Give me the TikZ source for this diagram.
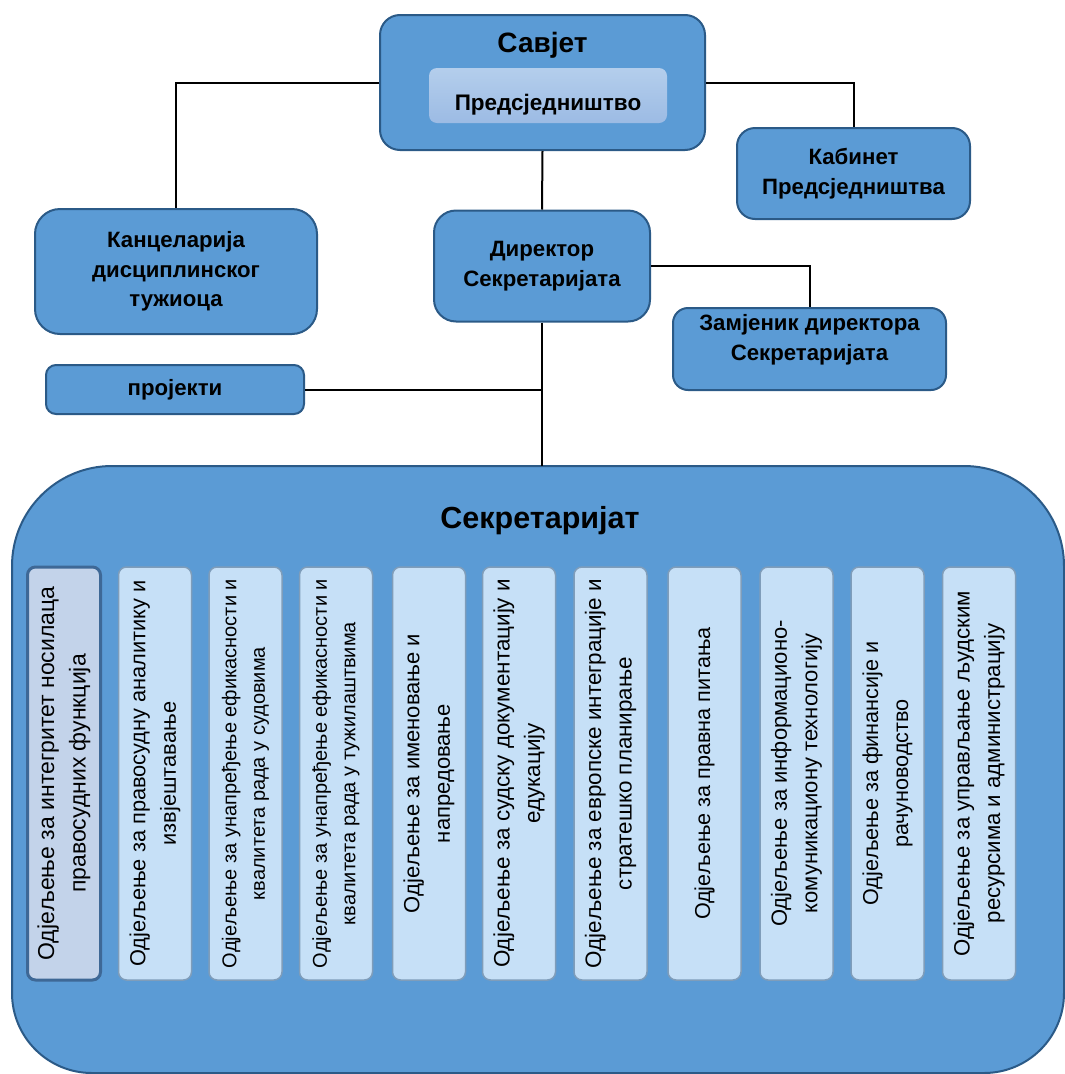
\documentclass[tikz,border=0pt]{standalone}
\usepackage{fontspec}
\setmainfont{Liberation Sans}
\definecolor{mainb}{HTML}{5B9BD5}
\definecolor{bord}{HTML}{2B5A87}
\definecolor{deptf}{HTML}{C6E0F7}
\definecolor{deptb}{HTML}{7F9DBA}
\definecolor{deptfa}{HTML}{C3D3EA}
\definecolor{deptba}{HTML}{3E6896}
\definecolor{predt}{HTML}{B4CEEC}
\definecolor{predb}{HTML}{9CBBE4}
\newcommand\dsz[2]{\fontsize{#1}{#2}\selectfont}
\tikzset{
  unitbox/.style={draw=bord, fill=mainb, line width=2pt, inner sep=0pt,
    font=\bfseries\fontsize{22.2}{29.5}\selectfont, align=center},
  dept/.style={draw=deptb, fill=deptf, line width=1.5pt, rounded corners=8pt,
    rotate=90, minimum width=413pt, minimum height=73pt, inner sep=0pt, align=center,
    font=\dsz{22}{30.5}},
  deptfirst/.style={dept, draw=deptba, fill=deptfa, line width=3pt},
  link/.style={draw=black, line width=2pt},
  bigshape/.style={draw=bord, fill=mainb, line width=2pt},
}
\begin{document}
\begin{tikzpicture}[x=1pt,y=-1pt]
\useasboundingbox (0,0) rectangle (1065,1074);
% big Sekretarijat shape
\path[bigshape] (12,566) .. controls (12,510.8) and (56.8,466) .. (112,466)
  -- (964,466) .. controls (1019.2,466) and (1064,510.8) .. (1064,566)
  -- (1064,993) .. controls (1064,1037.2) and (1028.2,1073) .. (984,1073)
  -- (92,1073) .. controls (47.8,1073) and (12,1037.2) .. (12,993) -- cycle;
\coordinate (sektop) at (542,466);
\node[anchor=base, font=\bfseries\fontsize{30.5}{36}\selectfont] (sektitle) at (540,528) {Секретаријат};

% top boxes
\node[unitbox, rounded corners=20pt, minimum width=325pt, minimum height=135pt] (savjet) at (542.5,82.5) {};
\node[anchor=base, font=\bfseries\fontsize{28}{34}\selectfont] (savjettitle) at (542.5,52) {Савјет};
\node[top color=predt, bottom color=predb, rounded corners=8pt, minimum width=238pt, minimum height=55pt, inner sep=0pt] (pred) at (548,95.5) {};
\node[anchor=base, font=\bfseries\fontsize{22.5}{26}\selectfont] (predtext) at (548,110) {Предсједништво};

\node[unitbox, rounded corners=18pt, minimum width=233pt, minimum height=91pt] (kab) at (853.5,173.5) {Кабинет\\Предсједништва};
\node[unitbox, rounded corners=25pt, minimum width=282pt, minimum height=125pt] (kanc) at (176,271.5) {Канцеларија\\дисциплинског\\тужиоца};
\node[unitbox, rounded corners=22pt, minimum width=216pt, minimum height=111pt] (dir) at (542,266) {Директор\\Секретаријата};
\node[unitbox, rounded corners=15pt, minimum width=273pt, minimum height=82pt] (zam) at (809.5,349) {Замјеник директора\\Секретаријата\\[-6pt]};
\node[unitbox, rounded corners=10pt, minimum width=258pt, minimum height=49pt] (proj) at (175,389.5) {пројекти};

% connectors
\draw[link] (savjet.west) -| (kanc.north);
\draw[link] (savjet.east) -| (kab.north);
\draw[link] (savjet.south) -- (dir.north);
\draw[link] (dir.east) -| (zam.north);
\draw[link] (dir.south) -- (sektop);
\draw[link] (proj.east) -- (proj.east -| dir.south);

% departments
\node[deptfirst, font=\dsz{23}{31.5}] (d1) at (64,773.5) {Одјељење за интегритет носилаца\\правосудних функција};
\node[dept, font=\dsz{21.8}{30.5}] (d2) at (155,773.5) {Одјељење за правосудну аналитику и\\извјештавање};
\node[dept, font=\dsz{20}{28.5}] (d3) at (245.5,773.5) {Одјељење за унапређење ефикасности и\\квалитета рада у судовима};
\node[dept, font=\dsz{20}{28.5}] (d4) at (336,773.5) {Одјељење за унапређење ефикасности и\\квалитета рада у тужилаштвима};
\node[dept] (d5) at (429,773.5) {Одјељење за именовање и\\напредовање};
\node[dept, font=\dsz{22.4}{30.5}] (d6) at (519,773.5) {Одјељење за судску документацију и\\едукацију};
\node[dept, font=\dsz{22.4}{30.5}] (d7) at (610.5,773.5) {Одјељење за европске интеграције и\\стратешко планирање};
\node[dept, font=\dsz{21.6}{30}] (d8) at (704.5,773.5) {Одјељење за правна питања};
\node[dept] (d9) at (796.5,773.5) {Одјељење за информационо-\\комуникациону технологију};
\node[dept, font=\dsz{21.6}{30}] (d10) at (887.5,773.5) {Одјељење за финансије и\\рачуноводство};
\node[dept, font=\dsz{22.2}{30.5}] (d11) at (979,773.5) {Одјељење за управљање људским\\ресурсима и администрацију};
\end{tikzpicture}
\end{document}
